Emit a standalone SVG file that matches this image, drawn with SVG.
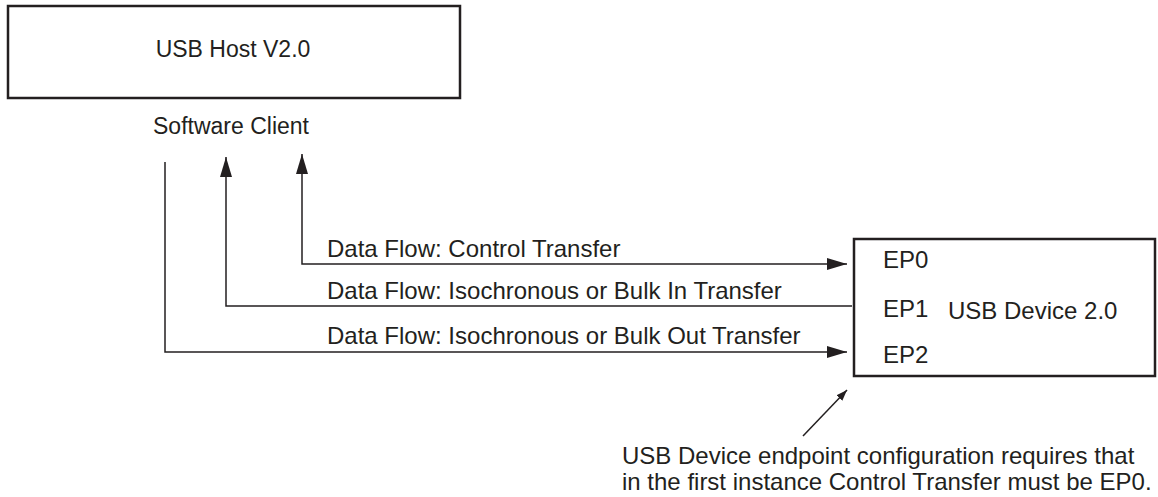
<svg xmlns="http://www.w3.org/2000/svg" width="1158" height="497" viewBox="0 0 1158 497">
  <style>
    .box { fill: #ffffff; stroke: #231f20; stroke-width: 2.5; }
    .t { font-family: "Liberation Sans", Arial, Helvetica, sans-serif; font-size: 24px; fill: #231f20; }
    .s { font-size: 23px; }
    .c { text-anchor: middle; }
    .conn { fill: none; stroke: #231f20; stroke-width: 1.5; }
  </style>
  <defs>
    <marker id="arrow" markerUnits="userSpaceOnUse" markerWidth="21" markerHeight="13" refX="20" refY="6" orient="auto-start-reverse">
      <path d="M0,0 L20,6 L0,12 Z" fill="#231f20"/>
    </marker>
    <marker id="small" markerUnits="userSpaceOnUse" markerWidth="12" markerHeight="9" refX="11" refY="4" orient="auto">
      <path d="M0,0 L11,4 L0,8 Z" fill="#231f20"/>
    </marker>
  </defs>
  <rect width="1158" height="497" fill="#ffffff"/>

  <g id="host">
    <rect class="box" x="8" y="6" width="452" height="92"/>
    <text class="t s c" x="233" y="57">USB Host V2.0</text>
  </g>

  <g id="software-client">
    <text class="t s c" x="231" y="134">Software Client</text>
  </g>

  <g id="device">
    <rect class="box" x="854" y="239" width="301" height="137"/>
    <text class="t" x="883" y="268">EP0</text>
    <text class="t" x="883" y="317">EP1</text>
    <text class="t" x="883" y="363">EP2</text>
    <text class="t" x="948" y="319">USB Device 2.0</text>
  </g>

  <g id="connectors">
    <path class="conn" d="M302,154 L302,264 L847,264" marker-start="url(#arrow)" marker-end="url(#arrow)"/>
    <path class="conn" d="M852,306 L226,306 L226,157" marker-end="url(#arrow)"/>
    <path class="conn" d="M165,162 L165,352 L847,352" marker-end="url(#arrow)"/>
    <path class="conn" d="M803,436 L847,390" marker-end="url(#small)"/>
    <text class="t" x="327" y="257">Data Flow: Control Transfer</text>
    <text class="t" x="327" y="299">Data Flow: Isochronous or Bulk In Transfer</text>
    <text class="t" x="327" y="344">Data Flow: Isochronous or Bulk Out Transfer</text>
  </g>

  <g id="note">
    <text class="t" x="622" y="464">USB Device endpoint configuration requires that</text>
    <text class="t" x="622" y="490">in the first instance Control Transfer must be EP0.</text>
  </g>
</svg>
